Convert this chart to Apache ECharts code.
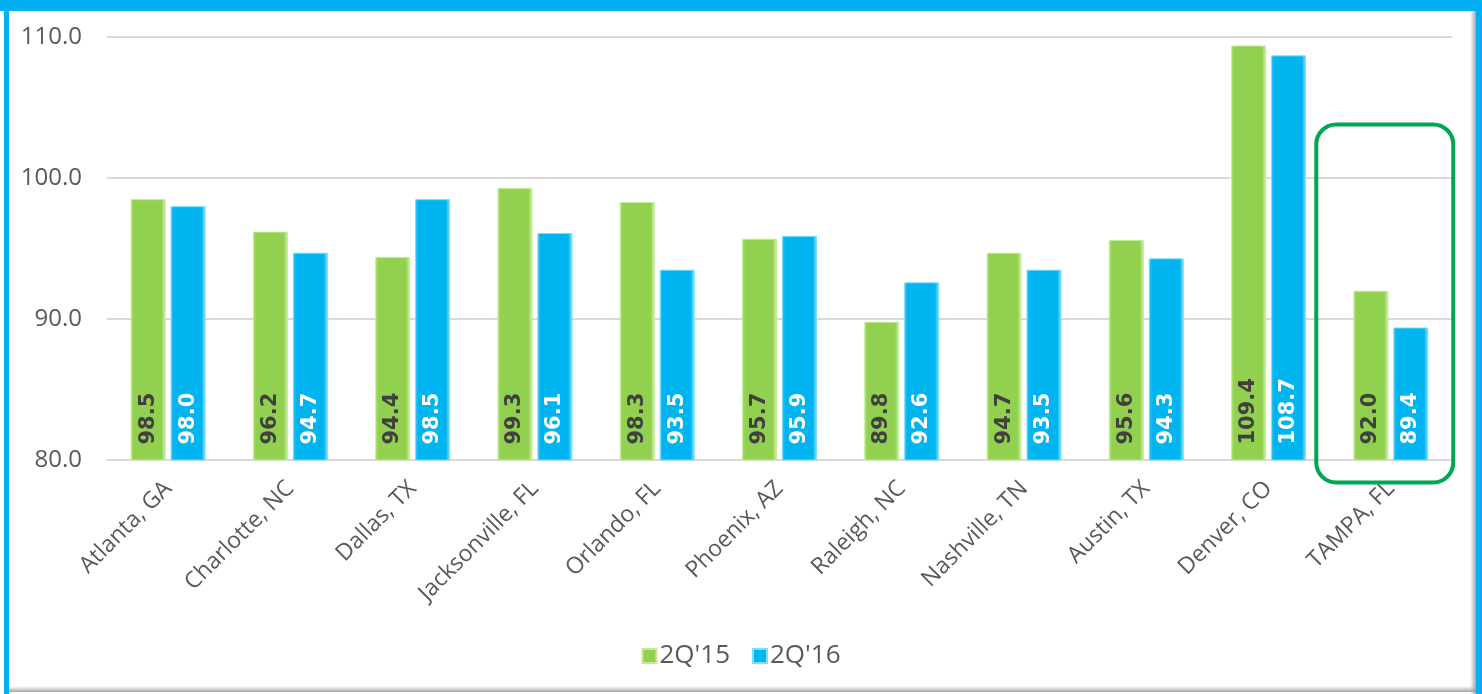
<!DOCTYPE html>
<html>
<head>
<meta charset="utf-8">
<script src="https://cdn.jsdelivr.net/npm/echarts@6/dist/echarts.min.js"></script>
<style>
  html, body { margin: 0; padding: 0; background: #fff; }
  #chart { width: 1482px; height: 694px; }
</style>
</head>
<body>
<div id="chart"></div>
<script>
const cities = [
    "Atlanta, GA", "Charlotte, NC", "Dallas, TX", "Jacksonville, FL", "Orlando, FL",
    "Phoenix, AZ", "Raleigh, NC", "Nashville, TN", "Austin, TX", "Denver, CO", "TAMPA, FL"
];
const q2_15 = [98.5, 96.2, 94.4, 99.3, 98.3, 95.7, 89.8, 94.7, 95.6, 109.4, 92.0];
const q2_16 = [98.0, 94.7, 98.5, 96.1, 93.5, 95.9, 92.6, 93.5, 94.3, 108.7, 89.4];
const seriesNames = ["2Q'15", "2Q'16"];
// highlight box around the last city (value range in axis units)
const highlightCity = "TAMPA, FL";
const highlightTop = 103.8;
const highlightBottom = 78.4;

const el = document.getElementById("chart");
const chart = echarts.init(el);

// bevel-ish fill: light edges, flat middle
const bevel = (edge, main, light) => new echarts.graphic.LinearGradient(0, 0, 1, 0, [
    { offset: 0, color: edge },
    { offset: 0.1, color: main },
    { offset: 0.88, color: main },
    { offset: 1, color: light },
]);
const greenFill = bevel("#a8e06c", "#92d050", "#d6f7b4");
const blueFill = bevel("#33c3f5", "#00b4f0", "#8ae8ff");

const labelFont = {
    show: true,
    position: "insideBottom",
    rotate: 90,
    align: "left",
    verticalAlign: "middle",
    distance: 16,
    fontFamily: "DejaVu Sans",
    fontWeight: "bold",
    fontSize: 21,
    formatter: (p) => p.value.toFixed(1),
};

const option = {
    animation: false,
    grid: { left: 107, right: 30, top: 37, bottom: 234 },
    legend: {
        bottom: 20,
        left: "center",
        itemWidth: 14,
        itemHeight: 14,
        itemGap: 22,
        icon: "rect",
        textStyle: { fontFamily: "Open Sans", fontSize: 26, color: "#595959", padding: [0, 0, 0, -2] },
        data: seriesNames,
    },
    xAxis: {
        type: "category",
        data: cities,
        axisLine: { lineStyle: { color: "#d9d9d9", width: 2 } },
        axisTick: { show: false },
        axisLabel: {
            rotate: 45,
            margin: 25,
            interval: 0,
            fontFamily: "Open Sans",
            fontSize: 23,
            color: "#595959",
        },
    },
    yAxis: {
        type: "value",
        min: 80,
        max: 110,
        interval: 10,
        axisLine: { show: false },
        axisTick: { show: false },
        splitLine: { lineStyle: { color: "#d9d9d9", width: 2 } },
        axisLabel: {
            margin: 25,
            fontFamily: "Open Sans",
            fontSize: 24,
            color: "#595959",
            formatter: (v) => v.toFixed(1),
        },
    },
    series: [
        {
            name: seriesNames[0],
            type: "bar",
            data: q2_15,
            barWidth: 35,
            barGap: "14%",
            itemStyle: { color: greenFill, borderColor: "#c4ec9c", borderWidth: 1 },
            label: Object.assign({}, labelFont, { color: "#404040" }),
        },
        {
            name: seriesNames[1],
            type: "bar",
            data: q2_16,
            barWidth: 35,
            itemStyle: { color: blueFill, borderColor: "#7fdcfa", borderWidth: 1 },
            label: Object.assign({}, labelFont, { color: "#ffffff" }),
        },
    ],
};
chart.setOption(option);

// frame + highlight box, placed from the chart's own scales
const idx = cities.indexOf(highlightCity);
const p0 = chart.convertToPixel({ gridIndex: 0 }, [idx - 1, highlightTop]);
const p1 = chart.convertToPixel({ gridIndex: 0 }, [idx, highlightBottom]);
const band = p1[0] - p0[0];
const W = 1482, H = 694;
chart.setOption({
    graphic: [
        {
            type: "rect",
            shape: { x: p1[0] - band * 0.61, y: p0[1], width: band * 1.12, height: p1[1] - p0[1], r: 20 },
            style: { fill: "none", stroke: "#00a651", lineWidth: 4 },
            z: 100,
        },
        // inner shadow right & bottom
        {
            type: "rect",
            shape: { x: W - 12, y: 8, width: 6, height: H },
            style: {
                fill: new echarts.graphic.LinearGradient(0, 0, 1, 0, [
                    { offset: 0, color: "rgba(160,160,160,0)" },
                    { offset: 1, color: "rgba(140,140,140,0.8)" },
                ]),
            },
            z: 90,
        },
        {
            type: "rect",
            shape: { x: 9, y: H - 8, width: W, height: 6 },
            style: {
                fill: new echarts.graphic.LinearGradient(0, 0, 0, 1, [
                    { offset: 0, color: "rgba(160,160,160,0)" },
                    { offset: 1, color: "rgba(140,140,140,0.8)" },
                ]),
            },
            z: 90,
        },
        { type: "rect", shape: { x: 0, y: 0, width: W, height: 11 }, style: { fill: "#00b0f0" }, z: 95 },
        { type: "rect", shape: { x: 4, y: 0, width: 5, height: H }, style: { fill: "#00b0f0" }, z: 95 },
        { type: "rect", shape: { x: W - 6, y: 0, width: 6, height: H }, style: { fill: "#00b0f0" }, z: 95 },
    ],
});
</script>
</body>
</html>
